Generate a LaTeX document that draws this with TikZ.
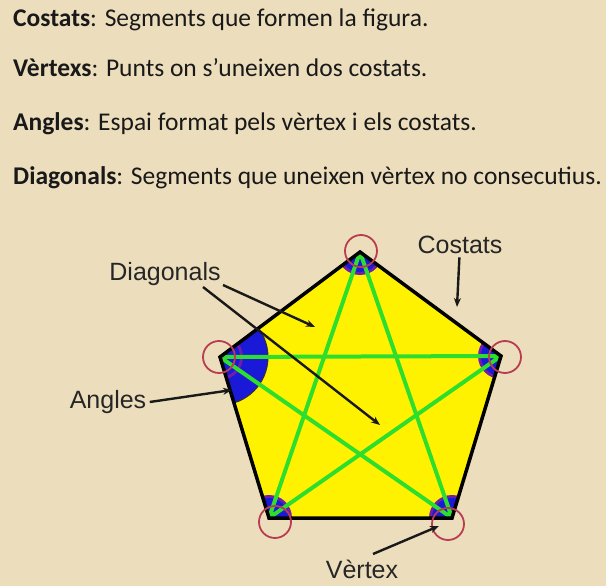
\documentclass[tikz,border=0pt]{standalone}
\usepackage{fontspec}
\setmainfont{Carlito}
\newfontfamily\labelfont{Liberation Sans}
\usetikzlibrary{positioning,calc,arrows.meta}

\definecolor{paper}{RGB}{236,222,188}
\definecolor{angblue}{RGB}{25,25,215}
\definecolor{angpurple}{RGB}{110,30,170}
\definecolor{diaggreen}{RGB}{45,222,45}
\definecolor{ringred}{RGB}{185,60,80}

\begin{document}
\begin{tikzpicture}[x=1pt, y=-1pt,
    info/.style={anchor=base west, inner sep=0pt, font=\fontsize{25.5}{30}\selectfont, text=black!90},
    figlabel/.style={font=\labelfont\fontsize{25}{30}\selectfont, text=black!85},
    pointer/.style={draw=black!90, line width=2.4pt, -{Stealth[length=9pt,width=7pt]}},
    side/.style={draw=black, line width=3.5pt, line join=miter},
    diagline/.style={draw=diaggreen, line width=4pt},
    ring/.style={circle, draw=ringred, line width=1.8pt, minimum size=32pt, inner sep=0pt}
]

% Background
\fill[paper] (0,0) rectangle (606,586);

% Definitions
\node[info] (costatsdef) at (13,27) {\textbf{Costats}: Segments que formen la figura.};
\node[info] (vertexdef) at (13,77) {\textbf{Vèrtexs}: Punts on s’uneixen dos costats.};
\node[info] (anglesdef) at (13,131) {\textbf{Angles}: Espai format pels vèrtex i els costats.};
\node[info] (diagdef) at (13,185) {\textbf{Diagonals}: Segments que uneixen vèrtex no consecutius.};

% Pentagon
\coordinate (vt) at (360,252);
\coordinate (vr) at (501,356);
\coordinate (vbr) at (452,518);
\coordinate (vbl) at (269,518);
\coordinate (vl) at (220,357);

\fill[yellow] (vt) -- (vr) -- (vbr) -- (vbl) -- (vl) -- cycle;

% Angles
\begin{scope}
    \clip (vt) -- (vr) -- (vbr) -- (vbl) -- (vl) -- cycle;
    \fill[angblue, draw=black!80, line width=1pt] (vl) circle (48);
    \foreach \v in {vt,vr,vbr,vbl,vl} {
        \fill[angpurple] (\v) circle (23);
        \fill[angblue] (\v) circle (20);
    }
\end{scope}

% Diagonals
\draw[diagline] (vt) -- (vbl) (vt) -- (vbr) (vl) -- (vr) (vl) -- (vbr) (vr) -- (vbl);

% Sides
\draw[side] (vt) -- (vr) -- (vbr) -- (vbl) -- (vl) -- cycle;

% Vertices
\node[ring] (ringt) at (361,251) {};
\node[ring] (ringr) at (505,357) {};
\node[ring] (ringbr) at (448,524) {};
\node[ring] (ringbl) at (275,522) {};
\node[ring] (ringl) at (219,357) {};

% Labels
\node[figlabel] (costats) at (460,245) {Costats};
\node[figlabel] (diagonals) at (165,274) {Diagonals};
\node[figlabel] (angles) at (108,402) {Angles};
\node[figlabel] (vertex) at (362,569) {Vèrtex};

\coordinate (costatsend) at (457,307);
\coordinate (diagend1) at (315,327);
\coordinate (diagend2) at (380,425);
\coordinate (anglesend) at (232,390);
\coordinate (vertexend) at (439,526);

\draw[pointer] (costats) -- (costatsend);
\draw[pointer] ([shift={(58,11)}]diagonals.center) -- (diagend1);
\draw[pointer] ([shift={(38,13)}]diagonals.center) -- (diagend2);
\draw[pointer] (angles.east) -- (anglesend);
\draw[pointer] ([shift={(11,-15)}]vertex.center) -- (vertexend);

\end{tikzpicture}
\end{document}
